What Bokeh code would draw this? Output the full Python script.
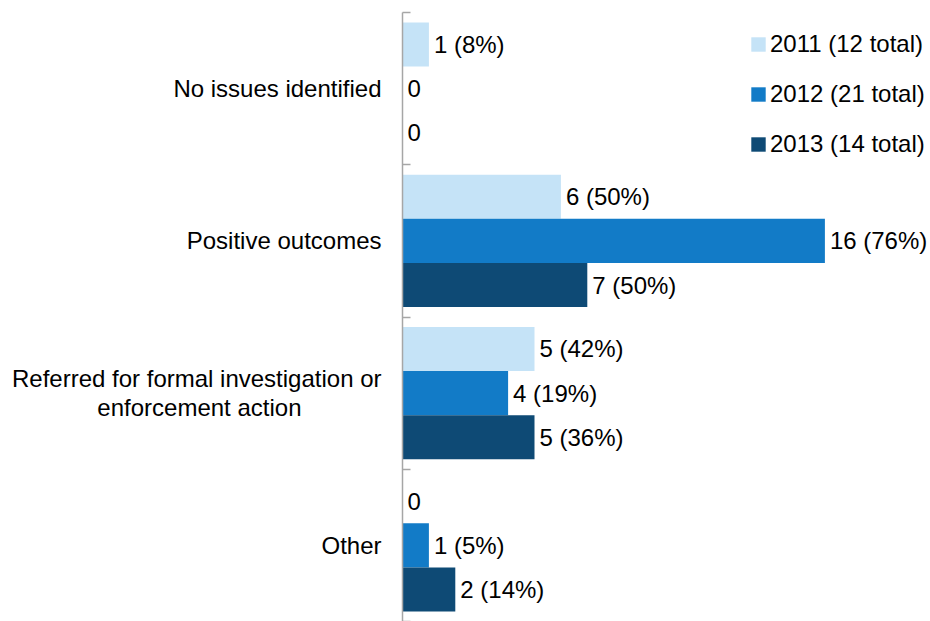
import textwrap
from bokeh.plotting import figure
from bokeh.models import (Range1d, LinearAxis, FixedTicker,
                          ColumnDataSource, Legend, LegendItem)
from bokeh.transform import dodge
from bokeh.core.properties import value
from bokeh.embed import file_html
from bokeh.resources import INLINE

categories = ["No issues identified", "Positive outcomes",
              "Referred for formal investigation or enforcement action", "Other"]
years = ["2011", "2012", "2013"]
totals = [12, 21, 14]
counts_2011 = [1, 6, 5, 0]
counts_2012 = [0, 16, 4, 1]
counts_2013 = [0, 7, 5, 2]
series = [counts_2011, counts_2012, counts_2013]
colors = ["#C5E3F7", "#127BC7", "#0E4A75"]

FONT = "Liberation Sans"
FS = "24px"
STANDOFF = 21
WRAP = 36
CHAR_W = 9.2     # approx. average glyph width (px) at 24px
NBSP_W = 6.67    # width of a no-break space (px) at 24px
n = len(categories)
# category centres on a numeric axis, first category at the top
cat_pos = [n - i - 0.5 for i in range(n)]


def centred_lines(text):
    """Wrap a long label and pad shorter lines so the lines look centred
    although the axis right-aligns the label block."""
    lines = textwrap.wrap(text, WRAP)
    longest = max(len(s) for s in lines)
    out = []
    for s in lines:
        pad = round((longest - len(s)) * CHAR_W / 2 / NBSP_W)
        out.append(s + "\u00a0" * pad)
    return "\n".join(out)


p = figure(width=930, height=621,
           y_range=Range1d(0, n), x_range=Range1d(0, 20.0),
           output_backend="svg", toolbar_location=None,
           x_axis_location=None, y_axis_location=None,
           min_border_left=402, min_border_right=0, min_border_top=12, min_border_bottom=0,
           outline_line_color=None)
p.grid.visible = False

tick_axis = LinearAxis(ticker=FixedTicker(ticks=list(range(n + 1))),
                       major_label_overrides={i: "" for i in range(n + 1)},
                       major_tick_in=8, major_tick_out=0, minor_tick_line_color=None,
                       axis_line_color="#A6A6A6", major_tick_line_color="#A6A6A6",
                       axis_line_width=1.5, major_tick_line_width=1.5,
                       major_label_standoff=0, major_label_text_font_size="0px")
p.add_layout(tick_axis, "left")

label_axis = LinearAxis(ticker=FixedTicker(ticks=cat_pos, minor_ticks=[]),
                        axis_line_color=None, major_tick_line_color=None,
                        minor_tick_line_color=None,
                        major_tick_in=0, major_tick_out=0,
                        major_label_standoff=STANDOFF,
                        major_label_text_font=FONT, major_label_text_font_size=FS,
                        major_label_text_color="#000000",
                        major_label_text_line_height=1.05,
                        major_label_overrides={y: centred_lines(c)
                                               for y, c in zip(cat_pos, categories)})
p.add_layout(label_axis, "left")

offsets = [0.29, 0.0, -0.29]
items = []
for year, total, counts, color, off in zip(years, totals, series, colors, offsets):
    labels = [f"{v} ({round(100 * v / total)}%)" if v else "0" for v in counts]
    src = ColumnDataSource(dict(pos=cat_pos, val=counts, label=labels))
    r = p.hbar(y=dodge("pos", off), left=0, right="val", height=0.29,
               source=src, fill_color=color, line_color=None)
    p.text(x="val", y=dodge("pos", off), text="label", source=src,
           x_offset=5, text_baseline="middle", text_align="left",
           text_font=value(FONT), text_font_size=FS, text_color="#000000")
    items.append(LegendItem(label=f"{year} ({total} total)", renderers=[r]))

legend = Legend(items=items, location=(347, 463), glyph_width=18, glyph_height=18,
                label_text_font=FONT, label_text_font_size=FS, label_text_color="#000000",
                label_standoff=3, spacing=22, padding=0, margin=0,
                border_line_color=None, background_fill_alpha=0)
p.add_layout(legend)

open("out.html", "w").write(file_html(p, INLINE))
